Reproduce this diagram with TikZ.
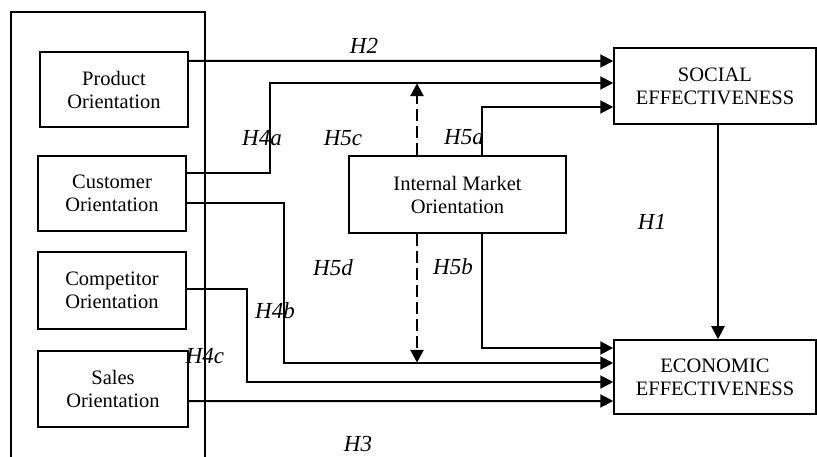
\documentclass[tikz,border=0pt]{standalone}
\usepackage{fontspec}
\setmainfont{Liberation Serif}
\usetikzlibrary{arrows.meta}
\begin{document}
\begin{tikzpicture}[x=1bp,y=-1bp,
  b/.style={draw,line width=1.5bp,minimum width=148bp,minimum height=75bp,inner sep=0pt,align=center,font=\fontsize{20.5bp}{23bp}\selectfont},
  a/.style={-{Triangle[length=13bp,width=13bp]},line width=2bp},
  d/.style={a,line width=2.8bp,dash pattern=on 12bp off 5bp},
  l/.style={font=\fontsize{23bp}{26bp}\selectfont\itshape}]
\useasboundingbox (0,0) rectangle (817,457);
\draw[line width=1.5bp] (11,457) |- (205,12) -- (205,457);
\node[b] (p) at (114,89.5) {Product\\Orientation};
\node[b] (cu) at (112,193.5) {Customer\\Orientation};
\node[b,minimum height=77bp] (co) at (112,290.5) {Competitor\\Orientation};
\node[b,minimum width=150bp,minimum height=76bp] (s) at (113,389) {Sales\\Orientation};
\node[b,minimum width=217bp,minimum height=77bp] (imo) at (457.5,194.5) {Internal Market\\Orientation};
\node[b,minimum width=202bp,minimum height=76bp] (soc) at (715,86) {SOCIAL\\EFFECTIVENESS};
\node[b,minimum width=202bp,minimum height=74bp] (eco) at (715,377) {ECONOMIC\\EFFECTIVENESS};
\draw[a] ([yshift=28.5bp]p.east) -- ([yshift=25bp]soc.west);
\draw[a] ([yshift=20.5bp]cu.east) -- ++(83,0) |- ([yshift=3bp]soc.west);
\draw[a] ([xshift=24.5bp]imo.north) |- ([yshift=-21bp]soc.west);
\draw[d] ([xshift=-40.5bp]imo.north) -- ++(0,-72);
\draw[d] ([xshift=-40.5bp]imo.south) -- ++(0,129);
\draw[a] ([xshift=24.5bp]imo.south) |- ([yshift=29bp]eco.west);
\draw[a] ([yshift=-9.5bp]cu.east) -- ++(97,0) |- ([yshift=14bp]eco.west);
\draw[a] ([yshift=1.5bp]co.east) -- ++(60,0) |- ([yshift=-5bp]eco.west);
\draw[a] ([yshift=-12bp]s.east) -- ([yshift=-24bp]eco.west);
\draw[a] ([xshift=3bp]soc.south) -- ([xshift=3bp]eco.north);
\node[l] (h2) at (364,46) {H2};
\node[l] (h4a) at (262,138) {H4a};
\node[l] (h5c) at (343,138) {H5c};
\node[l] (h5a) at (464,137) {H5a};
\node[l] (h1) at (652,222) {H1};
\node[l] (h5d) at (333,268) {H5d};
\node[l] (h5b) at (453,267) {H5b};
\node[l] (h4b) at (275,311) {H4b};
\node[l] (h4c) at (205,356) {H4c};
\node[l] (h3) at (358,444) {H3};
\end{tikzpicture}
\end{document}
